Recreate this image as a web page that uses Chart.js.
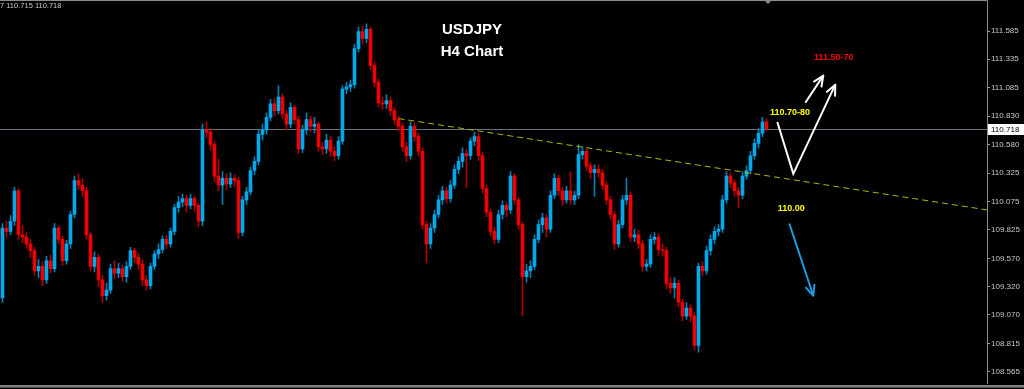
<!DOCTYPE html>
<html lang="en">
<head>
  <meta charset="UTF-8" />
  <title>USDJPY H4 Chart</title>
  <script src="https://cdn.jsdelivr.net/npm/chart.js"></script>
  <style>
    html, body { margin: 0; padding: 0; background: #000; overflow: hidden; }
    #chart { display: block; }
  </style>
</head>
<body>
  <canvas id="chart" width="1024" height="389"></canvas>

  <script>
    // H4 candles, oldest first (prices)
    const opens = [
      109.22,109.84,109.81,109.90,110.17,109.78,109.76,109.70,109.64,109.46,109.50,109.38,109.55,109.48,109.84,109.74,
      109.55,109.70,109.96,110.26,110.22,110.17,109.78,109.50,109.58,109.38,109.24,109.29,109.48,109.44,109.48,109.41,
      109.50,109.64,109.58,109.52,109.38,109.33,109.50,109.61,109.65,109.74,109.70,109.81,110.02,110.07,110.10,110.04,
      110.10,110.04,109.90,110.71,110.69,110.58,110.30,110.22,110.28,110.23,110.28,110.26,109.80,110.09,110.16,110.35,
      110.43,110.67,110.71,110.82,110.94,110.88,111.00,110.85,110.76,110.91,110.80,110.54,110.71,110.80,110.74,110.76,
      110.56,110.54,110.62,110.52,110.48,110.61,111.07,111.09,111.11,111.43,111.58,111.52,111.60,111.28,111.13,110.95,
      110.94,110.97,110.88,110.80,110.74,110.56,110.48,110.74,110.65,110.52,109.87,109.70,109.84,109.96,110.09,110.17,
      110.10,110.22,110.36,110.43,110.50,110.48,110.61,110.65,110.48,110.19,109.98,109.81,109.74,109.96,110.04,110.00,
      110.30,110.09,109.87,109.41,109.46,109.50,109.74,109.87,109.93,109.83,110.13,110.28,110.17,110.09,110.17,110.09,
      110.13,110.49,110.52,110.39,110.33,110.36,110.33,110.22,110.09,109.96,109.70,109.87,110.09,110.13,109.76,109.78,
      109.70,109.50,109.52,109.74,109.76,109.65,109.64,109.35,109.31,109.35,109.18,109.06,109.13,109.06,108.80,109.50,
      109.46,109.64,109.74,109.81,109.83,110.09,110.30,110.24,110.17,110.13,110.30,110.35,110.48,110.59,110.68,110.78
    ];
    const highs = [
      109.88,109.90,109.95,110.20,110.19,109.86,109.80,109.74,109.67,109.56,109.54,109.59,109.60,109.88,109.86,109.77,
      109.73,109.99,110.30,110.32,110.28,110.20,109.80,109.63,109.61,109.42,109.35,109.52,109.55,109.53,109.51,109.54,
      109.67,109.66,109.62,109.56,109.42,109.53,109.64,109.70,109.77,109.78,109.84,110.05,110.12,110.14,110.13,110.14,
      110.12,110.06,110.76,110.78,110.72,110.61,110.45,110.34,110.32,110.33,110.31,110.29,110.12,110.20,110.38,110.47,
      110.71,110.76,110.86,110.98,110.99,111.10,111.03,110.88,110.95,110.93,110.83,110.75,110.86,110.83,110.82,110.78,
      110.60,110.67,110.65,110.56,110.65,111.10,111.13,111.15,111.47,111.62,111.63,111.65,111.62,111.31,111.16,111.00,
      111.02,111.00,110.91,110.83,110.77,110.60,110.78,110.77,110.68,110.55,109.90,109.88,110.00,110.13,110.21,110.20,
      110.26,110.40,110.47,110.55,110.54,110.64,110.69,110.68,110.51,110.22,110.01,109.85,110.00,110.08,110.07,110.34,
      110.32,110.11,109.89,109.52,109.55,109.78,109.91,109.97,109.96,110.17,110.32,110.31,110.20,110.21,110.34,110.17,
      110.58,110.56,110.54,110.42,110.40,110.40,110.36,110.25,110.12,109.99,109.91,110.13,110.28,110.16,109.83,109.82,
      109.73,109.56,109.78,109.80,109.79,109.70,109.67,109.40,109.40,109.38,109.21,109.18,109.16,109.09,109.53,109.54,
      109.68,109.78,109.85,109.87,110.13,110.34,110.33,110.27,110.20,110.34,110.39,110.52,110.63,110.72,110.82,110.81
    ];
    const lows = [
      109.18,109.76,109.78,109.86,109.74,109.71,109.66,109.58,109.42,109.40,109.33,109.35,109.44,109.45,109.70,109.51,
      109.52,109.66,109.93,110.18,110.12,109.74,109.46,109.45,109.32,109.18,109.20,109.26,109.39,109.40,109.37,109.36,
      109.47,109.53,109.47,109.33,109.29,109.30,109.47,109.57,109.62,109.66,109.67,109.78,109.98,110.03,109.98,110.01,
      109.99,109.85,109.86,110.64,110.53,110.25,110.17,110.05,110.18,110.20,110.21,109.75,109.77,110.05,110.13,110.31,
      110.40,110.62,110.67,110.79,110.83,110.85,110.81,110.71,110.73,110.76,110.50,110.51,110.67,110.69,110.68,110.52,
      110.49,110.50,110.47,110.44,110.45,110.58,111.03,111.05,111.08,111.40,111.47,111.48,111.24,111.09,110.91,110.89,
      110.90,110.84,110.76,110.70,110.52,110.43,110.45,110.61,110.48,109.83,109.53,109.66,109.80,109.93,110.05,110.06,
      110.07,110.19,110.32,110.38,110.20,110.45,110.57,110.44,110.15,109.94,109.77,109.70,109.71,109.92,109.94,109.97,
      110.05,109.83,109.06,109.36,109.40,109.47,109.71,109.80,109.76,109.80,110.10,110.13,110.04,110.06,110.05,110.05,
      110.10,110.45,110.35,110.28,110.12,110.29,110.18,110.05,109.92,109.65,109.67,109.84,110.05,109.72,109.72,109.66,
      109.46,109.46,109.49,109.70,109.60,109.59,109.30,109.26,109.22,109.14,109.02,109.03,109.01,108.76,108.74,109.42,
      109.43,109.60,109.70,109.77,109.80,110.06,110.20,110.12,110.02,110.10,110.27,110.32,110.45,110.55,110.65,110.70
    ];
    const closes = [
      109.84,109.81,109.90,110.17,109.78,109.76,109.70,109.64,109.46,109.50,109.38,109.55,109.48,109.84,109.74,109.55,
      109.70,109.96,110.26,110.22,110.17,109.78,109.50,109.58,109.38,109.24,109.29,109.48,109.44,109.48,109.41,109.50,
      109.64,109.58,109.52,109.38,109.33,109.50,109.61,109.65,109.74,109.70,109.81,110.02,110.07,110.10,110.04,110.10,
      110.04,109.90,110.71,110.69,110.58,110.30,110.22,110.28,110.23,110.28,110.26,109.80,110.09,110.16,110.35,110.43,
      110.67,110.71,110.82,110.94,110.88,111.00,110.85,110.76,110.91,110.80,110.54,110.71,110.80,110.74,110.76,110.56,
      110.54,110.62,110.52,110.48,110.61,111.07,111.09,111.11,111.43,111.58,111.52,111.60,111.28,111.13,110.95,110.94,
      110.97,110.88,110.80,110.74,110.56,110.48,110.74,110.65,110.52,109.87,109.70,109.84,109.96,110.09,110.17,110.10,
      110.22,110.36,110.43,110.50,110.48,110.61,110.65,110.48,110.19,109.98,109.81,109.74,109.96,110.04,110.00,110.30,
      110.09,109.87,109.41,109.46,109.50,109.74,109.87,109.93,109.83,110.13,110.28,110.17,110.09,110.17,110.09,110.13,
      110.49,110.52,110.39,110.33,110.36,110.33,110.22,110.09,109.96,109.70,109.87,110.09,110.13,109.76,109.78,109.70,
      109.50,109.52,109.74,109.76,109.65,109.64,109.35,109.31,109.35,109.18,109.06,109.13,109.06,108.80,109.50,109.46,
      109.64,109.74,109.81,109.83,110.09,110.30,110.24,110.17,110.13,110.30,110.35,110.48,110.59,110.68,110.78,110.72
    ];

    const currentPrice = 110.718;
    const headerText = '7 110.715 110.718';
    const yTicks = [111.585, 111.335, 111.085, 110.830, 110.580, 110.325, 110.075,
                    109.825, 109.570, 109.320, 109.070, 108.815, 108.565];
    const yMin = 108.465, yMax = 111.809;

    // drawn objects (bar index, price)
    const trendX = [99, 246.2];
    const trendY = [110.81, 110.00];
    const zigX = [193.7, 197.7, 208.2];
    const zigY = [110.78, 110.32, 111.11];
    const upX = [200.7, 205.2];
    const upY = [110.95, 111.19];
    const downX = [196.7, 202.7];
    const downY = [109.88, 109.24];

    const noteTexts = ['111.50-70', '110.70-80', '110.00'];
    const noteX = [207.8, 196.9, 197.2];
    const noteY = [111.35, 110.86, 110.01];
    const noteColors = ['#ff0000', '#ffff00', '#ffff00'];

    const bullBody = '#00a8ec', bearBody = '#f00000';
    const bullWick = '#0a7fb4', bearWick = '#b00000';
    const isBull = closes.map((c, i) => c >= opens[i]);

    const pts = (xs, ys) => xs.map((x, i) => ({ x, y: ys[i] }));

    const overlay = {
      id: 'overlay',
      beforeDatasetsDraw(chart) {
        const { ctx, chartArea: a, scales: { y } } = chart;
        const py = Math.round(y.getPixelForValue(currentPrice)) + 0.5;
        ctx.save();
        ctx.strokeStyle = '#66737f';
        ctx.lineWidth = 1;
        ctx.beginPath(); ctx.moveTo(a.left, py); ctx.lineTo(a.right, py); ctx.stroke();
        ctx.restore();
      },
      afterDatasetsDraw(chart) {
        const ctx = chart.ctx;
        chart.data.datasets.forEach((ds, i) => {
          if (!ds.arrow) return;
          const p = chart.getDatasetMeta(i).data;
          const a = p[p.length - 2], b = p[p.length - 1];
          const ang = Math.atan2(b.y - a.y, b.x - a.x);
          ctx.save();
          ctx.strokeStyle = ds.borderColor;
          ctx.lineWidth = 2;
          ctx.lineCap = 'round';
          ctx.beginPath();
          [0.42, -0.42].forEach(d => {
            ctx.moveTo(b.x, b.y);
            ctx.lineTo(b.x - 11 * Math.cos(ang + d), b.y - 11 * Math.sin(ang + d));
          });
          ctx.stroke();
          ctx.restore();
        });
      },
      afterDraw(chart) {
        const { ctx, chartArea: a, scales: { x, y } } = chart;
        ctx.save();

        // titles
        ctx.fillStyle = '#ffffff';
        ctx.textAlign = 'center';
        ctx.textBaseline = 'middle';
        ctx.font = 'bold 15px "Liberation Sans", Arial, sans-serif';
        ctx.fillText('USDJPY', 472, 30);
        ctx.fillText('H4 Chart', 472, 52);

        // price notes
        ctx.font = 'bold 9px "Liberation Sans", Arial, sans-serif';
        noteTexts.forEach((t, i) => {
          ctx.fillStyle = noteColors[i];
          ctx.fillText(t, x.getPixelForValue(noteX[i]), y.getPixelForValue(noteY[i]));
        });

        // header quote
        ctx.textAlign = 'left';
        ctx.fillStyle = '#c8c8c8';
        ctx.font = '7.5px "Liberation Sans", Arial, sans-serif';
        ctx.fillText(headerText, 0, 6);

        // frame
        ctx.strokeStyle = '#8c8c8c';
        ctx.lineWidth = 1;
        ctx.beginPath();
        ctx.moveTo(0, 0.5); ctx.lineTo(a.right + 0.5, 0.5); ctx.lineTo(a.right + 0.5, a.bottom);
        ctx.stroke();
        ctx.fillStyle = '#808080';
        ctx.fillRect(0, 385, 1024, 2);
        ctx.fillStyle = '#4c4c4c';
        ctx.fillRect(0, 387, 1024, 1);

        // shift marker
        ctx.fillStyle = '#8a8a8a';
        ctx.beginPath();
        ctx.moveTo(764, 0); ctx.lineTo(772, 0); ctx.lineTo(768, 4); ctx.closePath();
        ctx.fill();

        // current price tag
        const py = Math.round(y.getPixelForValue(currentPrice));
        ctx.fillStyle = '#ffffff';
        ctx.fillRect(a.right + 1, py - 5, 1024 - a.right - 1, 11);
        ctx.fillStyle = '#000000';
        ctx.font = '8px "Liberation Sans", Arial, sans-serif';
        ctx.fillText(currentPrice.toFixed(3), a.right + 4, py + 0.5);
        ctx.restore();
      }
    };

    new Chart(document.getElementById('chart').getContext('2d'), {
      type: 'bar',
      data: {
        datasets: [
          {
            label: 'Wicks',
            data: lows.map((l, i) => ({ x: i, y: [l, highs[i]] })),
            backgroundColor: isBull.map(b => b ? bullWick : bearWick),
            barThickness: 1,
            grouped: false,
            order: 3
          },
          {
            label: 'Bodies',
            data: opens.map((o, i) => ({ x: i, y: [o, closes[i]] })),
            backgroundColor: isBull.map(b => b ? bullBody : bearBody),
            barThickness: 3,
            minBarLength: 1,
            grouped: false,
            order: 2
          },
          {
            type: 'line', label: 'Trend', data: pts(trendX, trendY),
            borderColor: '#b4b400', borderWidth: 1, borderDash: [6, 4],
            pointRadius: 0, order: 1
          },
          {
            type: 'line', label: 'Zigzag', data: pts(zigX, zigY), arrow: true,
            borderColor: '#ffffff', borderWidth: 2, pointRadius: 0, order: 0
          },
          {
            type: 'line', label: 'Up', data: pts(upX, upY), arrow: true,
            borderColor: '#ffffff', borderWidth: 2, pointRadius: 0, order: 0
          },
          {
            type: 'line', label: 'Down', data: pts(downX, downY), arrow: true,
            borderColor: '#1a9ce0', borderWidth: 2, pointRadius: 0, order: 0
          }
        ]
      },
      options: {
        responsive: false,
        animation: false,
        layout: { padding: { top: 1, bottom: 3, left: 0, right: 0 } },
        plugins: { legend: { display: false }, tooltip: { enabled: false } },
        scales: {
          x: { type: 'linear', display: false, min: -0.625, max: 246.125, offset: false },
          y: {
            position: 'right',
            min: yMin, max: yMax,
            afterBuildTicks: s => { s.ticks = yTicks.map(v => ({ value: v })); },
            afterFit: s => { s.width = 37; },
            ticks: {
              color: '#c8c8c8', padding: 1, autoSkip: false,
              font: { family: '"Liberation Sans", Arial, sans-serif', size: 8 },
              callback: v => v.toFixed(3)
            },
            grid: { drawOnChartArea: false, drawTicks: true, tickLength: 3, color: '#9a9a9a' },
            border: { display: true, color: '#9a9a9a' }
          }
        }
      },
      plugins: [overlay]
    });
  </script>
</body>
</html>
